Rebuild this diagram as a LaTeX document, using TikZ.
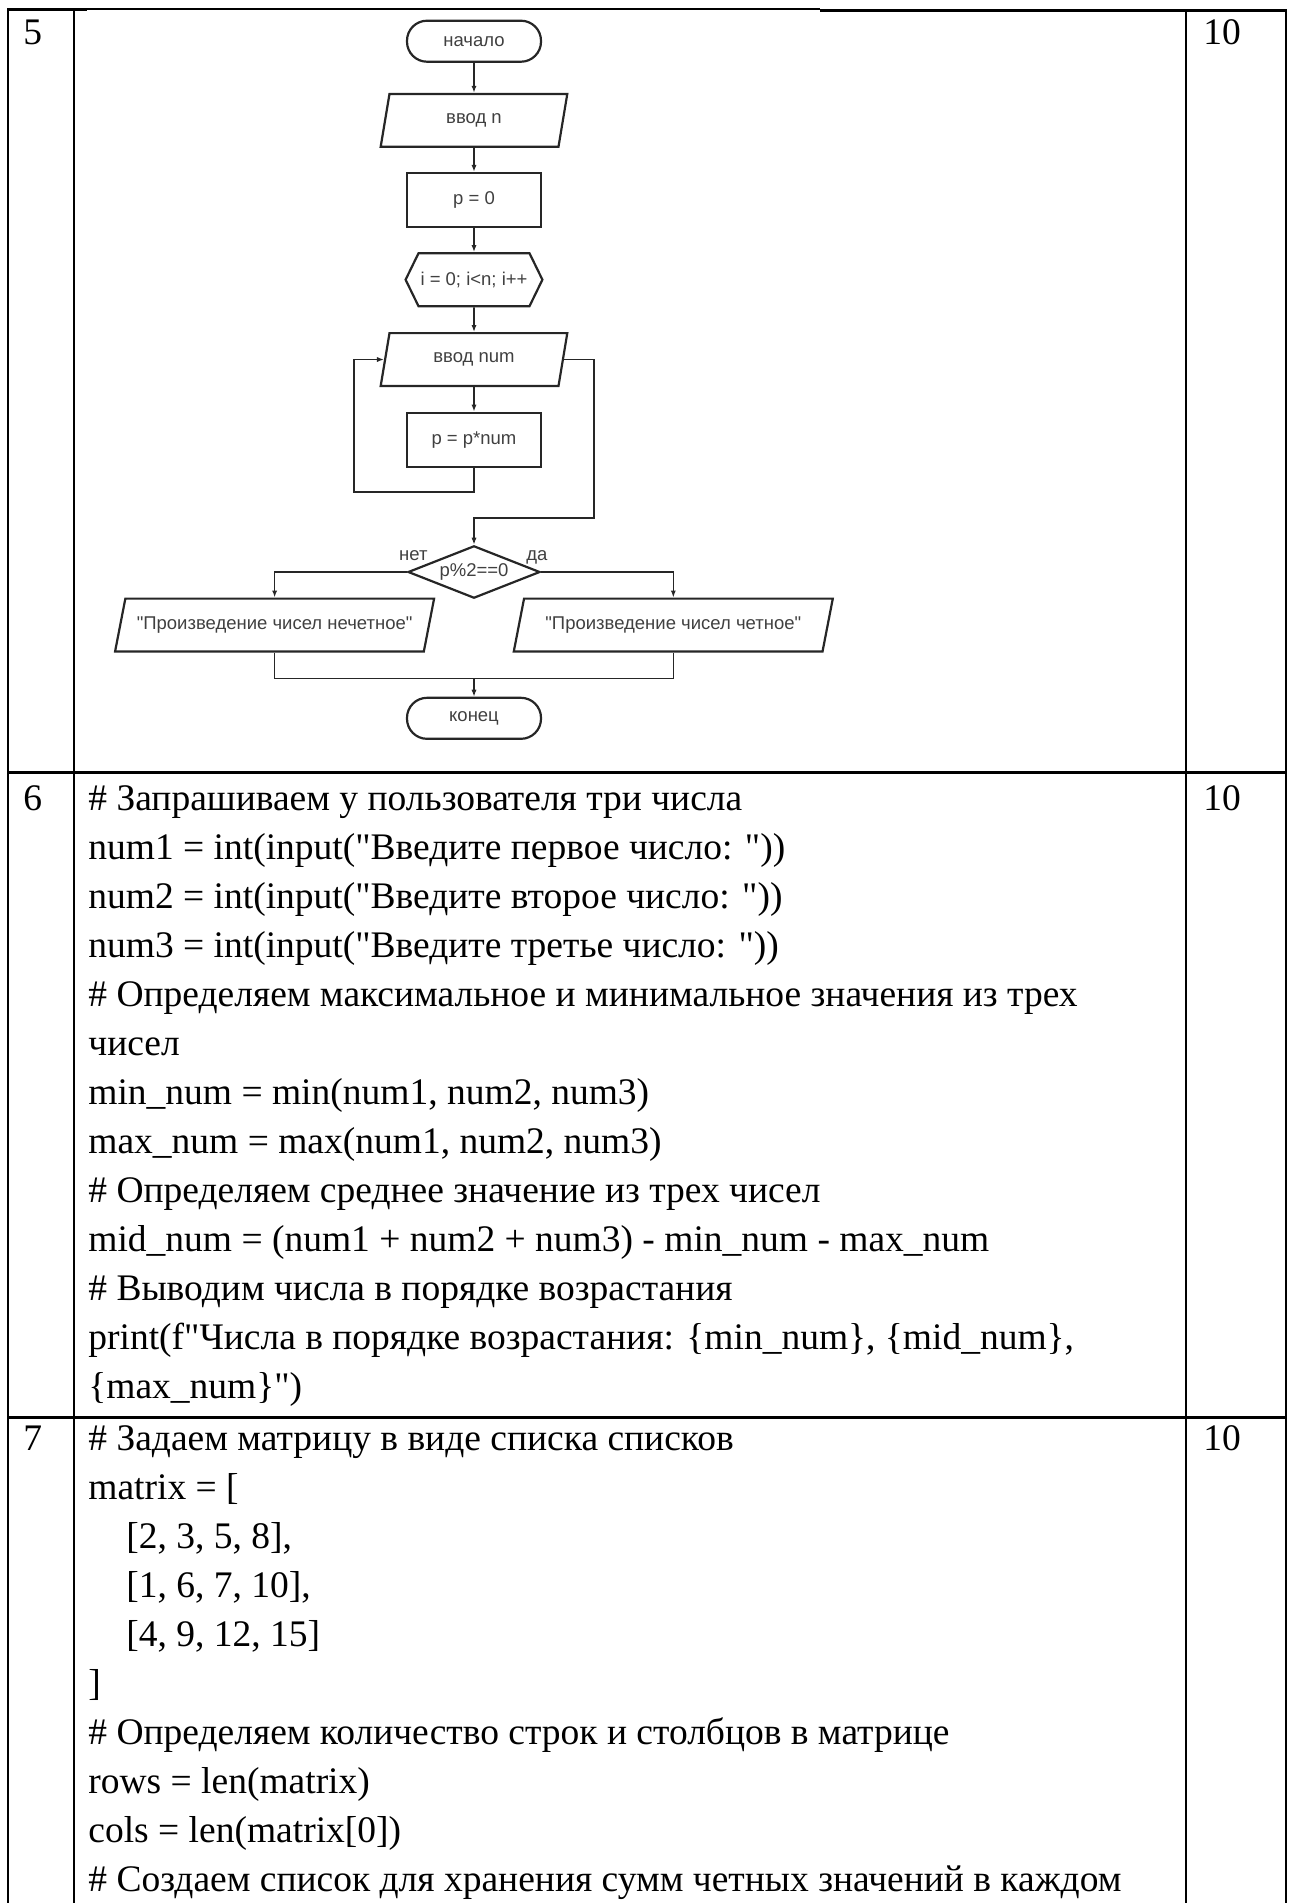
\documentclass[tikz,border=0pt]{standalone}
\usepackage{fontspec}
\setmainfont{Liberation Serif}[Ligatures=TeXOff]
\newfontfamily\chartfont{Liberation Sans}[Ligatures=TeXOff]
\usetikzlibrary{arrows.meta,shapes.geometric,shapes.symbols}

\begin{document}
\begin{tikzpicture}[x=0.5pt,y=-0.5pt,>=Latex,
  flowbox/.style={draw=black!85,line width=1.1pt,font=\chartfont\fontsize{9.25}{11}\selectfont,text=black!75,inner sep=1pt},
  terminal/.style={flowbox,rectangle,rounded corners=10pt,minimum width=67pt,minimum height=20.5pt},
  iobox/.style={flowbox,trapezium,trapezium left angle=63.5,trapezium right angle=116.5,trapezium stretches body,minimum height=26.4pt},
  procbox/.style={flowbox,rectangle,minimum width=67pt,minimum height=27pt},
  loopbox/.style={flowbox,signal,signal to=west and east,signal pointer angle=128,minimum width=67pt,minimum height=26.5pt},
  condbox/.style={flowbox,diamond,aspect=2.5,inner sep=0pt,minimum width=66pt,minimum height=26.2pt},
  flowlabel/.style={font=\chartfont\fontsize{9.25}{11}\selectfont,text=black!75,inner sep=0pt},
  flow/.style={draw=black!85,line width=0.8pt},
  celltext/.style={font=\fontsize{18.75}{24.5}\selectfont,align=left,inner sep=0pt,anchor=base west},
  gridline/.style={line width=1pt},
  rowline/.style={line width=1.5pt}]
\useasboundingbox (0,0) rectangle (1291,1903);

% table frame
\draw[gridline] (8,9)--(8,1903);
\draw[gridline] (74,9)--(74,1903);
\draw[gridline] (1186,9)--(1186,1903);
\draw[gridline] (1286,9)--(1286,1903);
\draw[rowline] (7,9.5)--(87,9.5);
\draw[line width=0.8pt] (87,9)--(820,9);
\draw[rowline] (820,10)--(1287,10);
\draw[rowline] (7,772)--(1287,772);
\draw[rowline] (7,1417)--(1287,1417);

% numbers and points
\node[celltext] (num5) at (23,44) {5};
\node[celltext] (pts5) at (1203,44) {10};
\node[celltext] (num6) at (23,810) {6};
\node[celltext] (pts6) at (1203,810) {10};
\node[celltext] (num7) at (23,1450) {7};
\node[celltext] (pts7) at (1203,1450) {10};

% flowchart of task 5
\node[terminal] (begin) at (474,41.2) {начало};
\node[iobox,minimum width=93.3pt] (inN) at (474,120.3) {ввод n};
\node[procbox] (init) at (474,200) {p = 0};
\node[loopbox] (loop) at (474,279.7) {i = 0; i<n; i++};
\node[iobox,minimum width=93.3pt] (inNum) at (474,359.5) {ввод num};
\node[procbox] (mult) at (474,439.7) {p = p*num};
\node[condbox] (cond) at (474,572) {p\%2==0};
\node[flowlabel,anchor=base east] (no) at (428,560) {нет};
\node[flowlabel,anchor=base west] (yes) at (526,560) {да};
\node[iobox,minimum width=159.5pt] (odd) at (274.6,625) {"Произведение чисел нечетное"};
\node[iobox,minimum width=159.5pt] (even) at (673.3,625) {"Произведение чисел четное"};
\node[terminal] (finish) at (474,718.3) {конец};
\coordinate (join) at (474,678.3);

\draw[flow,-{Latex[length=3.5pt,width=2.6pt]}] (begin.south)--(inN.north);
\draw[flow,-{Latex[length=3.5pt,width=2.6pt]}] (inN.south)--(init.north);
\draw[flow,-{Latex[length=3.5pt,width=2.6pt]}] (init.south)--(loop.north);
\draw[flow,-{Latex[length=3.5pt,width=2.6pt]}] (loop.south)--(inNum.north);
\draw[flow,-{Latex[length=3.5pt,width=2.6pt]}] (inNum.south)--(mult.north);
\draw[flow,-{Latex[length=3.5pt,width=2.6pt]}] (mult.south)|-(354,492)|-(inNum.west);
\draw[flow,-{Latex[length=3.5pt,width=2.6pt]}] (inNum.east)-|(594,518)-|(cond.north);
\draw[flow,-{Latex[length=3.5pt,width=2.6pt]}] (cond.west)-|(odd.north);
\draw[flow,-{Latex[length=3.5pt,width=2.6pt]}] (cond.east)-|(even.north);
\draw[flow] (odd.south)|-(join)-|(even.south);
\draw[flow,-{Latex[length=3.5pt,width=2.6pt]}] (join)--(finish.north);

% code of task 6 (base = last line)
\node[celltext] (code6) at (88,1398) {\# Запрашиваем у пользователя три числа\\
num1 = int(input("Введите первое число: "))\\
num2 = int(input("Введите второе число: "))\\
num3 = int(input("Введите третье число: "))\\
\# Определяем максимальное и минимальное значения из трех\\
чисел\\
min\_num = min(num1, num2, num3)\\
max\_num = max(num1, num2, num3)\\
\# Определяем среднее значение из трех чисел\\
mid\_num = (num1 + num2 + num3) - min\_num - max\_num\\
\# Выводим числа в порядке возрастания\\
print(f"Числа в порядке возрастания: \{min\_num\}, \{mid\_num\},\\
\{max\_num\}")};

% code of task 7
\node[celltext] (code7) at (88,1891) {\# Задаем матрицу в виде списка списков\\
matrix = [\\
\hspace*{19pt}[2, 3, 5, 8],\\
\hspace*{19pt}[1, 6, 7, 10],\\
\hspace*{19pt}[4, 9, 12, 15]\\
]\\
\# Определяем количество строк и столбцов в матрице\\
rows = len(matrix)\\
cols = len(matrix[0])\\
\# Создаем список для хранения сумм четных значений в каждом};
\end{tikzpicture}
\end{document}
